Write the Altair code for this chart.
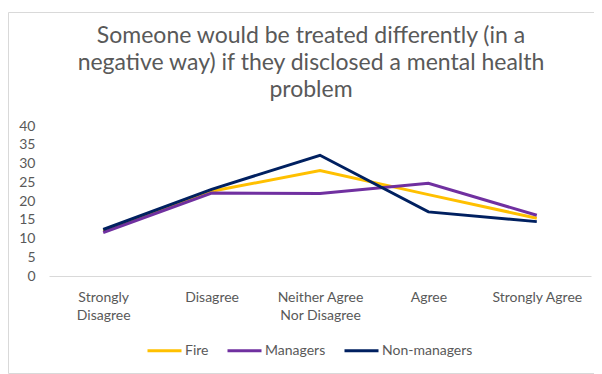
import altair as alt
import pandas as pd

categories = ["Strongly Disagree", "Disagree", "Neither Agree Nor Disagree", "Agree", "Strongly Agree"]
fire = [12.0, 22.6, 28.1, 21.7, 15.4]
managers = [11.6, 22.1, 22.0, 24.7, 16.2]
non_managers = [12.4, 23.1, 32.2, 17.1, 14.5]
series_names = ["Fire", "Managers", "Non-managers"]
series_colors = ["#FFC000", "#7030A0", "#002060"]
title_lines = ["Someone would be treated differently (in a",
               "negative way) if they disclosed a mental health",
               "problem"]

rows = []
for name, vals in zip(series_names, [fire, managers, non_managers]):
    for c, v in zip(categories, vals):
        rows.append({"category": c, "value": v, "series": name})
df = pd.DataFrame(rows)

FONT = "Lato"
GREY = "#595959"

label_expr = ("datum.label == 'Strongly Disagree' ? ['Strongly', 'Disagree'] : "
              "datum.label == 'Neither Agree Nor Disagree' ? ['Neither Agree', 'Nor Disagree'] : datum.label")

lines = alt.Chart(df).mark_line(strokeWidth=3).encode(
    x=alt.X("category:N", sort=categories, title=None,
            scale=alt.Scale(paddingInner=0, paddingOuter=0.5),
            axis=alt.Axis(labelAngle=0, labelExpr=label_expr, ticks=False,
                          domainColor="#D9D9D9", labelColor=GREY, labelFontSize=14,
                          labelFont=FONT, labelPadding=14, labelLineHeight=18, grid=False)),
    y=alt.Y("value:Q", title=None, scale=alt.Scale(domain=[0, 40]),
            axis=alt.Axis(values=[0, 5, 10, 15, 20, 25, 30, 35, 40], domain=False, ticks=False,
                          grid=False, labelColor=GREY, labelFontSize=14, labelFont=FONT,
                          labelPadding=14)),
    color=alt.Color("series:N", sort=series_names,
                    scale=alt.Scale(domain=series_names, range=series_colors),
                    legend=alt.Legend(title=None, orient="none", direction="horizontal",
                                      legendX=97, legendY=206,
                                      symbolType="stroke", symbolSize=1156, symbolStrokeWidth=3,
                                      labelFontSize=14, labelColor=GREY, labelFont=FONT,
                                      labelOffset=2, columnPadding=12)),
)

border = alt.Chart(pd.DataFrame({"k": [0]})).mark_rect(
    fill=None, stroke="#D9D9D9", strokeWidth=1
).encode(
    x=alt.value(-40.5), x2=alt.value(620), y=alt.value(-113.5), y2=alt.value(247.5)
)

chart = alt.layer(border, lines).properties(
    width=542, height=150,
    title=alt.TitleParams(text=title_lines, fontSize=23, font=FONT, color=GREY,
                          fontWeight="normal", anchor="middle", offset=16, lineHeight=27,
                          dx=-9, dy=106),
    autosize=alt.AutoSizeParams(type="none"),
    padding={"left": 41, "top": 118, "right": 3, "bottom": 98},
).configure(background="white").configure_view(stroke=None)

chart.save("out.html", embed_options={"renderer": "svg", "actions": False})
